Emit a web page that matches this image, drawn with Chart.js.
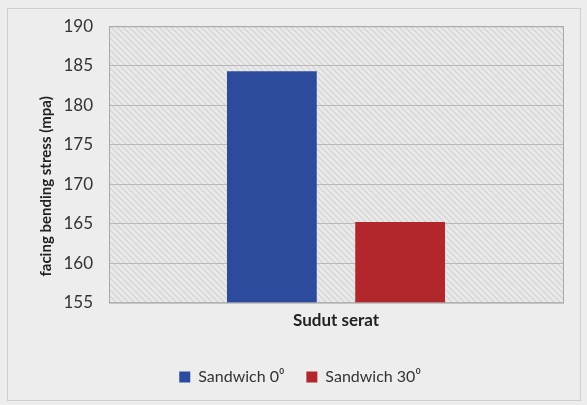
<!DOCTYPE html>
<html>
<head>
<meta charset="utf-8">
<script src="https://cdn.jsdelivr.net/npm/chart.js@4/dist/chart.umd.min.js"></script>
<style>
  html, body { margin: 0; padding: 0; background: #ececec; }
  #wrap { width: 587px; height: 405px; position: relative; }
</style>
</head>
<body>
<div id="wrap"><canvas id="bendingChart"></canvas></div>
<script>
const categories = [""];
const seriesNames = ["Sandwich 0\u2070", "Sandwich 30\u2070"];
const sandwich0 = [184.3];
const sandwich30 = [165.2];
const yTicks = [155, 160, 165, 170, 175, 180, 185, 190];
const yTitle = "facing bending stress (mpa)";

// hatched plot background like the scanned original
function makeHatch() {
  const c = document.createElement("canvas");
  c.width = 6; c.height = 6;
  const g = c.getContext("2d");
  g.fillStyle = "#e9e9e9";
  g.fillRect(0, 0, 6, 6);
  g.strokeStyle = "#d2d2d2";
  g.lineWidth = 1.2;
  g.beginPath();
  g.moveTo(0, 0); g.lineTo(6, 6);
  g.moveTo(-3, 3); g.lineTo(3, 9);
  g.moveTo(3, -3); g.lineTo(9, 3);
  g.stroke();
  return g.createPattern(c, "repeat");
}

const plotBg = {
  id: "plotBg",
  beforeDraw(chart) {
    const { ctx, chartArea: a } = chart;
    ctx.save();
    ctx.fillStyle = "#ededed";
    ctx.fillRect(0, 0, chart.width, chart.height);
    ctx.strokeStyle = "#cfcfcf";
    ctx.lineWidth = 1;
    ctx.strokeRect(7.5, 8.5, 573, 392);
    ctx.fillStyle = makeHatch();
    ctx.fillRect(a.left, a.top, a.right - a.left, a.bottom - a.top);
    ctx.restore();
  },
  afterDatasetsDraw(chart) {
    const { ctx, chartArea: a } = chart;
    ctx.save();
    ctx.strokeStyle = "#a8a8a8";
    ctx.lineWidth = 1;
    ctx.strokeRect(a.left + 0.5, a.top + 0.5, a.right - a.left, a.bottom - a.top);
    // y axis title, sits a bit low in the original
    ctx.translate(46, (a.top + a.bottom) / 2 + 22);
    ctx.rotate(-Math.PI / 2);
    ctx.font = "bold 15px Lato";
    ctx.fillStyle = "#222";
    ctx.textAlign = "center";
    ctx.textBaseline = "middle";
    ctx.fillText(yTitle, 0, 0);
    ctx.restore();
  }
};

new Chart(document.getElementById("bendingChart"), {
  type: "bar",
  data: {
    labels: categories,
    datasets: [
      { label: seriesNames[0], data: sandwich0, backgroundColor: "#2d4b9c", borderWidth: 0 },
      { label: seriesNames[1], data: sandwich30, backgroundColor: "#b2272c", borderWidth: 0 }
    ]
  },
  options: {
    responsive: true,
    maintainAspectRatio: false,
    animation: false,
    categoryPercentage: 0.565,
    barPercentage: 0.7,
    layout: { padding: { left: 37, right: 24, top: 20, bottom: 10 } },
    plugins: {
      legend: {
        position: "bottom",
        labels: {
          font: { family: "Lato", size: 16 },
          color: "#333",
          boxWidth: 11,
          boxHeight: 11,
          padding: 22
        }
      },
      tooltip: { enabled: false }
    },
    scales: {
      x: {
        grid: { display: false },
        border: { display: false },
        ticks: { display: false },
        title: {
          display: true,
          text: "Sudut serat",
          font: { family: "Lato", size: 17, weight: "bold" },
          color: "#222",
          padding: { top: 0, bottom: 16 }
        }
      },
      y: {
        min: 155,
        max: 190,
        afterBuildTicks(scale) { scale.ticks = yTicks.map(v => ({ value: v })); },
        afterFit(scale) { scale.width = 72; },
        grid: { color: "#b9b9b9", drawTicks: false },
        border: { display: false },
        ticks: {
          padding: 16,
          font: { family: "Lato", size: 17 },
          color: "#333"
        }
      }
    }
  },
  plugins: [plotBg]
});
</script>
</body>
</html>
